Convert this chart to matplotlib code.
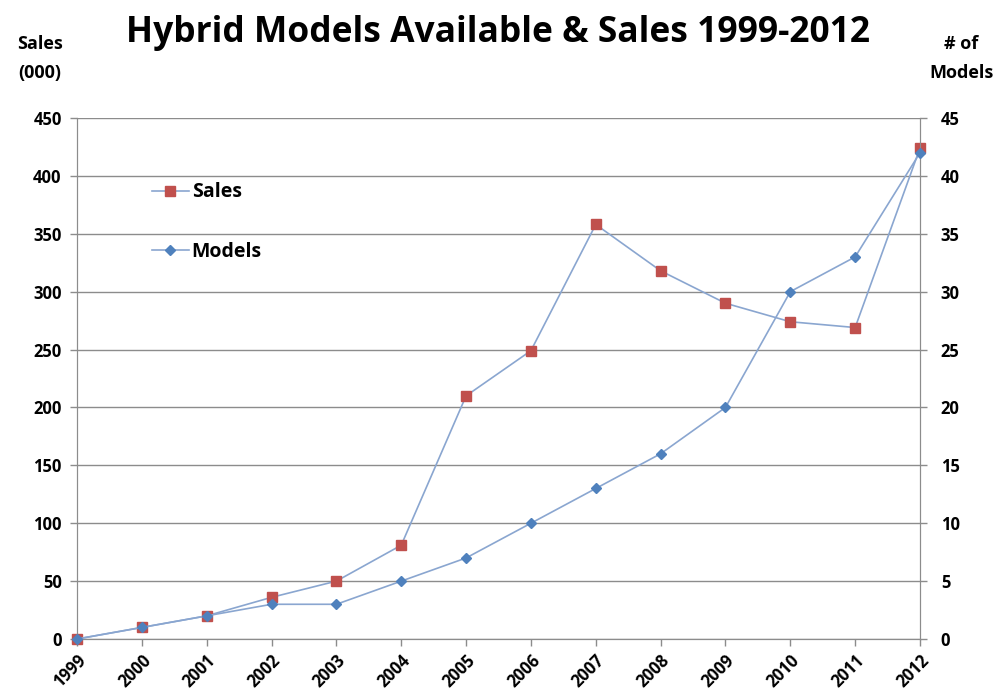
import matplotlib.pyplot as plt
import numpy as np

years = ["1999", "2000", "2001", "2002", "2003", "2004", "2005",
         "2006", "2007", "2008", "2009", "2010", "2011", "2012"]
sales = [0, 10, 20, 36, 50, 81, 210, 249, 358, 318, 290, 274, 269, 424]
models = [0, 1, 2, 3, 3, 5, 7, 10, 13, 16, 20, 30, 33, 42]

LINE = "#8aa6d0"
RED = "#c0504d"
BLUE = "#4f81bd"
FONT = "Open Sans"

plt.rcParams["font.family"] = FONT
plt.rcParams["font.weight"] = "bold"

fig = plt.figure(figsize=(9.96, 6.98), dpi=100)
ax = fig.add_axes([0.0773, 0.0845, 0.8464, 0.7465])
ax2 = ax.twinx()

x = np.arange(len(years))
ax.plot(x, sales, color=LINE, lw=1.2, marker="s", ms=7,
        mfc=RED, mec=RED, label="Sales", zorder=3, clip_on=False)
ax2.plot(x, models, color=LINE, lw=1.2, marker="D", ms=5.5,
         mfc=BLUE, mec=BLUE, label="Models", zorder=3, clip_on=False)

ax.set_xlim(0, len(years) - 1)
ax.set_ylim(0, 450)
ax.set_yticks(np.arange(0, 451, 50))
ax2.set_ylim(0, 45)
ax2.set_yticks(np.arange(0, 46, 5))
ax.set_xticks(x)
ax.set_xticklabels(years, rotation=45, ha="right", rotation_mode="anchor")
ax.grid(axis="y", color="#8c8c8c", lw=1)
ax.set_axisbelow(True)

for a in (ax, ax2):
    a.spines["top"].set_visible(False)
    for side in ("left", "right", "bottom"):
        a.spines[side].set_color("#8c8c8c")
    a.tick_params(colors="#8c8c8c", labelcolor="black", labelsize=12,
                  length=5, width=1)
ax.tick_params(axis="y", pad=6)
ax2.tick_params(axis="y", pad=10)
ax.tick_params(axis="x", pad=4)

h1, l1 = ax.get_legend_handles_labels()
h2, l2 = ax2.get_legend_handles_labels()
ax.legend(h1 + h2, l1 + l2, loc="upper left", bbox_to_anchor=(0.068, 0.91),
          frameon=False, labelspacing=2.05, handlelength=1.9,
          handletextpad=0.15, prop={"family": FONT, "weight": "bold", "size": 14})

fig.text(0.5, 0.953, "Hybrid Models Available & Sales 1999-2012",
         ha="center", va="center", fontsize=25.5, fontweight="bold")
fig.text(0.04, 0.916, "Sales\n(000)", ha="center", va="center",
         fontsize=13, fontweight="bold", linespacing=1.8)
fig.text(0.965, 0.916, "# of\nModels", ha="center", va="center",
         fontsize=13, fontweight="bold", linespacing=1.8)

plt.savefig("out.png", dpi=100)
